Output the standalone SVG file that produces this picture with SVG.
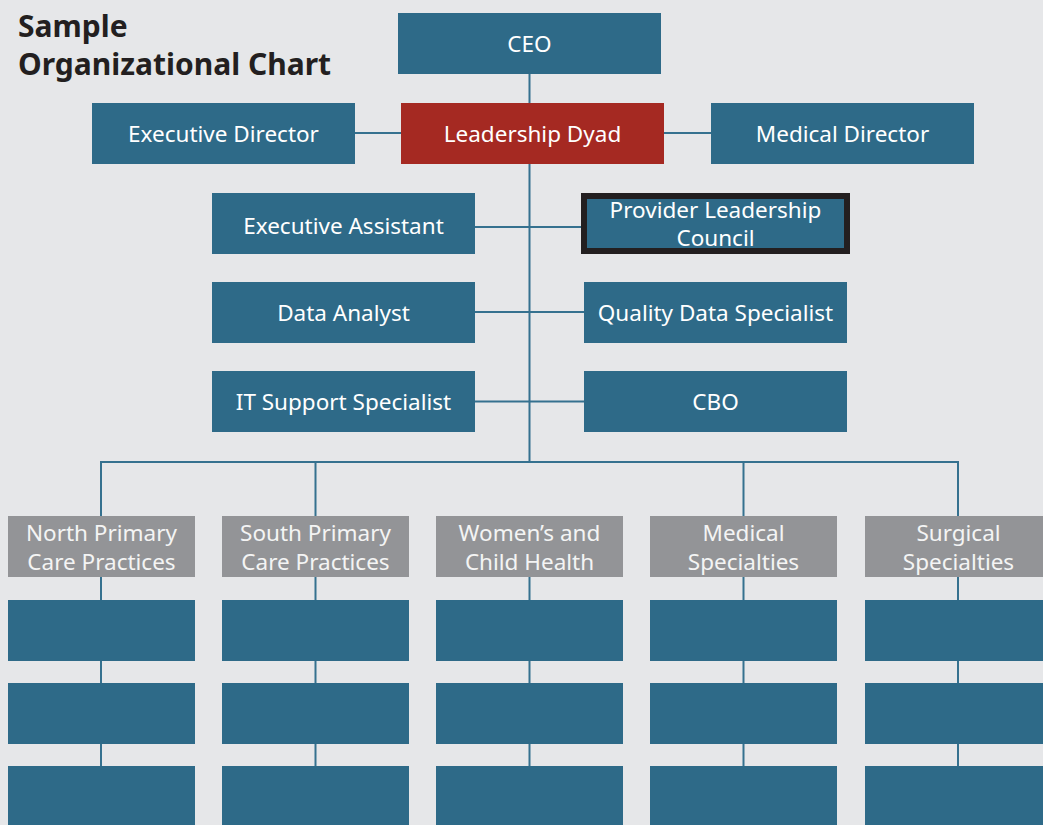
<svg xmlns="http://www.w3.org/2000/svg" width="1043" height="825" viewBox="0 0 1043 825">
  <style>
    .bg { fill: #e6e7e9; }
    .box { fill: #2e6a88; }
    .dyad { fill: #a52922; }
    .unit { fill: #939497; }
    .council { fill: #2e6a88; stroke: #231f20; stroke-width: 6; }
    .lbl { font-family: "Noto Sans", "Open Sans", "Liberation Sans", sans-serif; font-size: 22.5px; fill: #ffffff; text-anchor: middle; }
    .ulbl { font-family: "Noto Sans", "Open Sans", "Liberation Sans", sans-serif; font-size: 22.5px; fill: #f4f4f4; text-anchor: middle; }
    .title { font-family: "Noto Sans", "Open Sans", "Liberation Sans", sans-serif; font-size: 30px; font-weight: bold; fill: #231f20; }
    .conn { stroke: #35718f; stroke-width: 2; fill: none; }
  </style>

  <rect class="bg" x="0" y="0" width="1043" height="825"/>

  <text class="title" x="18" y="37">Sample</text>
  <text class="title" x="18" y="75">Organizational Chart</text>

  <!-- reporting lines, drawn beneath the boxes -->
  <g id="connectors">
    <line class="conn" x1="529.5" y1="73" x2="529.5" y2="462"/>
    <line class="conn" x1="355" y1="133" x2="711" y2="133"/>
    <line class="conn" x1="475" y1="227" x2="584" y2="227"/>
    <line class="conn" x1="475" y1="312" x2="584" y2="312"/>
    <line class="conn" x1="475" y1="401.5" x2="584" y2="401.5"/>
    <polyline class="conn" points="101,516 101,462 958,462 958,516"/>
    <line class="conn" x1="315.5" y1="462" x2="315.5" y2="516"/>
    <line class="conn" x1="743.5" y1="462" x2="743.5" y2="516"/>
    <!-- unit columns -->
    <line class="conn" x1="101" y1="577" x2="101" y2="825"/>
    <line class="conn" x1="315.5" y1="577" x2="315.5" y2="825"/>
    <line class="conn" x1="529.5" y1="577" x2="529.5" y2="825"/>
    <line class="conn" x1="743.5" y1="577" x2="743.5" y2="825"/>
    <line class="conn" x1="958" y1="577" x2="958" y2="825"/>
  </g>

  <g id="ceo">
    <rect class="box" x="398" y="13" width="263" height="61"/>
    <text class="lbl" x="529.5" y="52">CEO</text>
  </g>
  <g id="executive-director">
    <rect class="box" x="92" y="103" width="263" height="61"/>
    <text class="lbl" x="223.5" y="142">Executive Director</text>
  </g>
  <g id="leadership-dyad">
    <rect class="dyad" x="401" y="103" width="263" height="61"/>
    <text class="lbl" x="532.5" y="142">Leadership Dyad</text>
  </g>
  <g id="medical-director">
    <rect class="box" x="711" y="103" width="263" height="61"/>
    <text class="lbl" x="842.5" y="142">Medical Director</text>
  </g>
  <g id="executive-assistant">
    <rect class="box" x="212" y="193" width="263" height="61"/>
    <text class="lbl" x="343.5" y="234">Executive Assistant</text>
  </g>
  <g id="provider-leadership-council">
    <rect class="council" x="584" y="196" width="263" height="55"/>
    <text class="lbl" x="715.5" y="218">Provider Leadership</text>
    <text class="lbl" x="715.5" y="246">Council</text>
  </g>
  <g id="data-analyst">
    <rect class="box" x="212" y="282" width="263" height="61"/>
    <text class="lbl" x="343.5" y="321">Data Analyst</text>
  </g>
  <g id="quality-data-specialist">
    <rect class="box" x="584" y="282" width="263" height="61"/>
    <text class="lbl" x="715.5" y="321">Quality Data Specialist</text>
  </g>
  <g id="it-support-specialist">
    <rect class="box" x="212" y="371" width="263" height="61"/>
    <text class="lbl" x="343.5" y="410">IT Support Specialist</text>
  </g>
  <g id="cbo">
    <rect class="box" x="584" y="371" width="263" height="61"/>
    <text class="lbl" x="715.5" y="410">CBO</text>
  </g>

  <!-- service-line units -->
  <g id="north-primary-care">
    <rect class="unit" x="8" y="516" width="187" height="61"/>
    <text class="ulbl" x="101.5" y="541">North Primary</text>
    <text class="ulbl" x="101.5" y="570">Care Practices</text>
  </g>
  <g id="south-primary-care">
    <rect class="unit" x="222" y="516" width="187" height="61"/>
    <text class="ulbl" x="315.5" y="541">South Primary</text>
    <text class="ulbl" x="315.5" y="570">Care Practices</text>
  </g>
  <g id="womens-child-health">
    <rect class="unit" x="436" y="516" width="187" height="61"/>
    <text class="ulbl" x="529.5" y="541">Women’s and</text>
    <text class="ulbl" x="529.5" y="570">Child Health</text>
  </g>
  <g id="medical-specialties">
    <rect class="unit" x="650" y="516" width="187" height="61"/>
    <text class="ulbl" x="743.5" y="541">Medical</text>
    <text class="ulbl" x="743.5" y="570">Specialties</text>
  </g>
  <g id="surgical-specialties">
    <rect class="unit" x="865" y="516" width="187" height="61"/>
    <text class="ulbl" x="958.5" y="541">Surgical</text>
    <text class="ulbl" x="958.5" y="570">Specialties</text>
  </g>

  <!-- empty position slots under each unit -->
  <g id="north-slots">
    <rect class="box" x="8" y="600" width="187" height="61"/>
    <rect class="box" x="8" y="683" width="187" height="61"/>
    <rect class="box" x="8" y="766" width="187" height="61"/>
  </g>
  <g id="south-slots">
    <rect class="box" x="222" y="600" width="187" height="61"/>
    <rect class="box" x="222" y="683" width="187" height="61"/>
    <rect class="box" x="222" y="766" width="187" height="61"/>
  </g>
  <g id="womens-slots">
    <rect class="box" x="436" y="600" width="187" height="61"/>
    <rect class="box" x="436" y="683" width="187" height="61"/>
    <rect class="box" x="436" y="766" width="187" height="61"/>
  </g>
  <g id="medical-slots">
    <rect class="box" x="650" y="600" width="187" height="61"/>
    <rect class="box" x="650" y="683" width="187" height="61"/>
    <rect class="box" x="650" y="766" width="187" height="61"/>
  </g>
  <g id="surgical-slots">
    <rect class="box" x="865" y="600" width="187" height="61"/>
    <rect class="box" x="865" y="683" width="187" height="61"/>
    <rect class="box" x="865" y="766" width="187" height="61"/>
  </g>
</svg>
